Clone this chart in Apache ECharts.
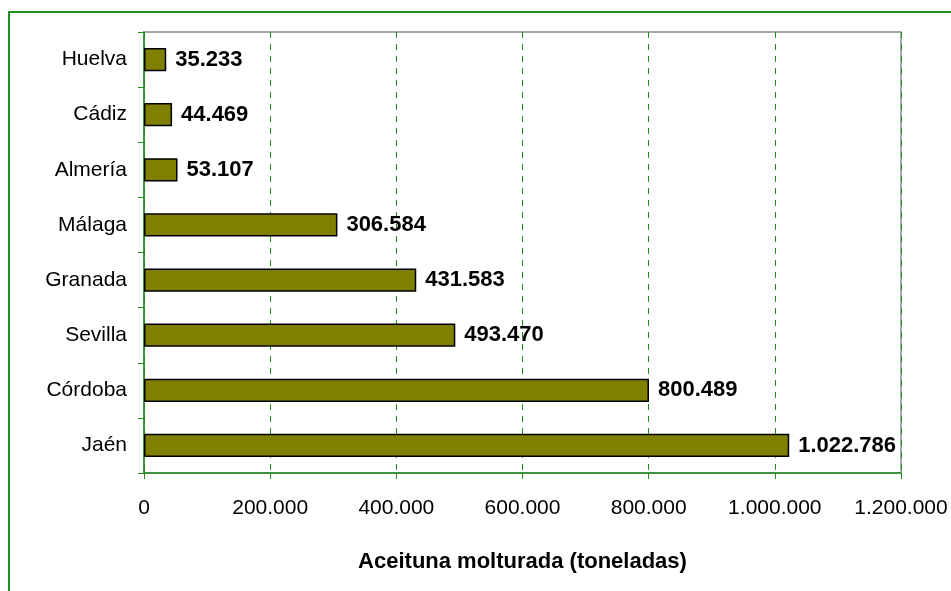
<!DOCTYPE html>
<html>
<head>
<meta charset="utf-8">
<script src="https://cdn.jsdelivr.net/npm/echarts@6/dist/echarts.min.js"></script>
<style>
    html, body {
        margin: 0;
        padding: 0;
        background: #fff;
    }

    #olivarChart {
        width: 951px;
        height: 591px;
    }
</style>
</head>
<body>
<div id="olivarChart"></div>
<script>
    // provincias, de arriba a abajo
    const provincias = ['Huelva', 'Cádiz', 'Almería', 'Málaga', 'Granada', 'Sevilla', 'Córdoba', 'Jaén'];
    const toneladas = [35233, 44469, 53107, 306584, 431583, 493470, 800489, 1022786];
    const ejeMax = 1200000;
    const ejePaso = 200000;
    const tituloEje = 'Aceituna molturada (toneladas)';

    // 1022786 -> "1.022.786"
    function puntos(v) {
        return String(Math.round(v)).replace(/\B(?=(\d{3})+(?!\d))/g, '.');
    }

    let myChart = echarts.init(document.getElementById('olivarChart'));
    const verde = '#1f8f1f';
    const fuente = '"Liberation Sans", Arial, sans-serif';

    let option = {
        animation: false,
        textStyle: {fontFamily: fuente},
        graphic: [{
            type: 'rect',
            shape: {x: 9, y: 12, width: 1000, height: 700},
            style: {fill: 'none', stroke: verde, lineWidth: 2},
            silent: true
        }],
        grid: {
            left: 144,
            right: 50,
            top: 32,
            bottom: 118,
            show: true,
            borderColor: '#8c8c8c',
            borderWidth: 1.5
        },
        xAxis: {
            type: 'value',
            min: 0,
            max: ejeMax,
            interval: ejePaso,
            name: tituloEje,
            nameLocation: 'middle',
            nameGap: 78,
            nameTextStyle: {
                color: '#000',
                fontWeight: 'bold',
                fontSize: 22,
                fontFamily: fuente
            },
            axisLine: {show: true, lineStyle: {color: verde, width: 1.5}},
            axisTick: {show: true, length: 6, lineStyle: {color: verde}},
            axisLabel: {
                color: '#000',
                fontSize: 21,
                margin: 25,
                formatter: v => puntos(v)
            },
            splitLine: {
                show: true,
                lineStyle: {color: verde, type: [6, 6], width: 1}
            }
        },
        yAxis: {
            type: 'category',
            inverse: true,
            data: provincias,
            axisLine: {show: true, lineStyle: {color: verde, width: 1.5}},
            axisTick: {show: true, length: 6, lineStyle: {color: verde}},
            axisLabel: {color: '#000', fontSize: 21, margin: 17}
        },
        series: [{
            type: 'bar',
            data: toneladas,
            barWidth: '42%',
            itemStyle: {
                color: '#808000',
                borderColor: '#000',
                borderWidth: 1.5
            },
            label: {
                show: true,
                position: 'right',
                distance: 9,
                color: '#000',
                fontWeight: 'bold',
                fontSize: 22,
                formatter: p => puntos(p.value)
            }
        }]
    };

    myChart.setOption(option);
</script>
</body>
</html>
